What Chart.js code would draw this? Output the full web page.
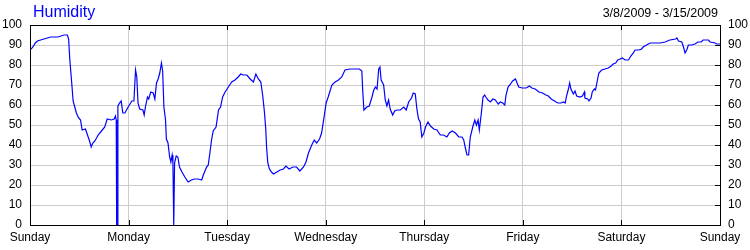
<!DOCTYPE html>
<html>
<head>
<meta charset="utf-8">
<script src="https://cdn.jsdelivr.net/npm/chart.js@4"></script>
<style>
  html, body { margin: 0; padding: 0; background: #fff; }
  #wrap { width: 750px; height: 250px; }
</style>
</head>
<body>
<div id="wrap"><canvas id="humChart" width="750" height="250"></canvas></div>
<script>
/* ----------- Data ----------- */
const chartTitle = 'Humidity';
const dateRange = '3/8/2009 - 3/15/2009';
const dayLabels = ['Sunday', 'Monday', 'Tuesday', 'Wednesday', 'Thursday', 'Friday', 'Saturday', 'Sunday'];
const yTicks = [0, 10, 20, 30, 40, 50, 60, 70, 80, 90, 100];

// hours since Sunday 00:00
const hours = [
  0, 0.3, 0.7, 1.3, 1.8, 3.4, 5.0, 6.8, 8.3, 9.1,
  9.4, 9.7, 10.1, 10.5, 10.9, 11.3, 11.7, 12.3, 12.7, 13.5,
  14.0, 14.5, 14.9, 15.3, 15.8, 16.6, 17.4, 18.2, 18.8, 19.8,
  20.5, 20.8, 21.0, 21.1, 21.3, 21.4, 21.8, 22.2, 22.6, 23.1,
  23.9, 24.8, 25.3, 25.7, 26.0, 26.3, 26.7, 27.5, 27.8, 28.1,
  28.6, 28.9, 29.4, 30.0, 30.4, 30.8, 31.2, 31.6, 32.0, 32.3,
  32.6, 33.0, 33.2, 33.6, 34.0, 34.3, 34.6, 34.8, 35.0, 35.2,
  35.6, 36.0, 36.4, 37.0, 37.7, 38.5, 39.3, 40.1, 40.9,
  41.8, 42.2, 43.0, 43.4, 43.8, 44.2, 44.6, 45.3, 45.9, 46.4,
  46.9, 47.5, 48.3, 49.1, 49.9, 50.7, 51.3, 51.9, 52.8, 53.6,
  54.4, 55.0, 55.6, 56.2, 56.7, 57.1, 57.4, 57.6, 57.9, 58.3,
  58.8, 59.3, 60.1, 60.9, 61.7, 62.3, 63.1, 64.0, 64.9, 65.7,
  66.6, 67.2, 67.8, 68.6, 69.2, 69.8, 70.5, 71.0, 71.6, 72.1,
  72.6, 73.5, 74.3, 75.1, 75.9, 76.7, 77.9, 79.1, 80.2, 80.8,
  81.0, 81.3, 82.0, 82.6, 83.2,
  83.7, 84.1, 84.5, 84.9, 85.2, 85.5, 86.1, 86.5, 86.9, 87.3,
  87.7, 88.3, 88.8, 89.4, 90.2, 91.0, 91.6, 92.2, 92.9, 93.3,
  93.8, 94.2, 94.6, 95.0, 95.4, 95.9, 96.3, 96.9, 97.5, 98.3,
  99.1, 99.9, 100.7, 101.5, 102.1, 102.8, 103.6, 104.4, 105.2, 105.6,
  106.0, 106.4, 106.8, 107.2, 107.8, 108.3, 108.7, 109.1, 109.4, 109.9,
  110.3, 110.7, 111.0, 111.5, 112.1, 112.7, 113.3, 114.0, 114.5, 115.1,
  115.6, 115.9, 116.4, 117.0, 117.5, 118.2, 118.6, 119.0, 119.8, 120.8,
  121.6, 122.2, 123.0, 123.9, 124.8, 125.6,
  126.2, 126.9, 127.7, 128.5, 129.3, 129.9, 130.3, 130.7, 131.1, 131.4,
  131.7, 132.3, 132.7, 133.1, 133.9, 134.5, 135.0, 135.1, 135.8, 136.1,
  136.6, 136.9, 137.4, 137.7, 138.2, 138.5, 139.2, 140.0, 140.8, 141.5,
  142.0, 142.6, 143.1, 143.7, 144.2, 144.9, 145.7, 146.3, 146.9, 147.3,
  148.3, 148.9, 149.3, 150.1, 151.0, 152.2, 153.4, 154.6, 155.8, 157.2,
  157.5, 157.9, 158.7, 159.1, 159.5, 159.9, 160.3, 161.1, 161.9, 162.6,
  163.4, 163.9, 165.2, 165.6, 166.8, 167.2, 168
];

// humidity %
const humidity = [
  88, 88, 89, 91, 92, 93, 94, 94, 95, 95,
  93, 82.5, 72.5, 62, 59, 56, 54, 52.5, 47.5, 48,
  45, 42, 39, 41, 42, 45, 47, 49, 53, 52.5,
  53, 54.5, 52.5, 0, 0, 59.5, 61, 62, 56, 56,
  59, 62, 62, 77.5, 74, 61, 58, 57.5, 55, 59,
  64, 63, 66.5, 66, 63, 71, 73, 76, 81, 77,
  59, 52.5, 43, 41, 34, 31.5, 35, 31, 0, 31,
  34.5, 34, 29, 26.5, 24, 21.5, 22.5, 23, 23,
  22.5, 25, 29, 30, 36, 42.5, 47, 49, 57.5, 59,
  64, 66.5, 69, 71.5, 72.5, 74, 75.5, 75, 75, 73,
  71.5, 75.5, 73, 71.5, 64, 56, 48, 39, 31, 28,
  26.5, 25.5, 26.5, 27.5, 28, 29.5, 28, 29, 29, 27,
  29, 31.5, 36, 40, 42.5, 41, 43, 46, 54, 61,
  64, 70, 71.5, 72.5, 74, 77.5, 78, 78, 78, 77,
  67.5, 57.5, 59, 59.5, 63.5,
  67.5, 69, 68, 78, 79, 72.5, 70, 62.5, 59.5, 62.5,
  58, 55, 57, 57.5, 57.5, 59, 57.5, 61.5, 63.5, 66,
  65.5, 58, 53, 51.5, 44, 46, 49, 51.5, 49.5, 48,
  47.5, 45, 45, 44, 46, 47, 46, 44, 44, 42.5,
  38.5, 35, 35, 44, 49, 52.5, 50, 52.5, 47.5, 56,
  64, 65, 64, 62.5, 61.5, 63, 62.5, 60.5, 61.5, 61,
  60, 65, 69, 70.5, 72, 73, 71, 69, 68.5, 68.5,
  69.5, 68.5, 68, 66.5, 66, 65,
  64.5, 63, 62, 61, 61, 61.5, 61, 65, 68, 71,
  68, 65.5, 67, 64.5, 64, 64.5, 66.5, 63.5, 63, 62,
  63.5, 66.5, 68, 67.5, 73, 76, 77.5, 78, 78.5, 79.5,
  80.5, 81, 82.5, 83, 83.5, 82.5, 82.5, 84.5, 86, 87.5,
  87.5, 88, 89, 90, 91, 91, 91, 91.5, 92.5, 93,
  93.5, 92, 91.5, 89, 86, 87.5, 90, 90, 90.5, 91.5,
  91.5, 92.5, 92.5, 91.5, 91, 90.5, 90.5
];

/* ----------- Frame, inner ticks & header text ----------- */
const FONT = '"Liberation Sans", Arial, sans-serif';
const framePlugin = {
  id: 'frame',
  afterDraw(chart) {
    const { ctx, chartArea: a, scales } = chart;
    ctx.save();
    ctx.strokeStyle = '#000';
    ctx.lineWidth = 1;
    ctx.strokeRect(a.left + 0.5, a.top + 0.5, a.right - a.left, a.bottom - a.top);
    ctx.beginPath();
    scales.x.ticks.forEach(t => {
      const px = Math.round(scales.x.getPixelForValue(t.value)) + 0.5;
      ctx.moveTo(px, a.top); ctx.lineTo(px, a.top + 5);
      ctx.moveTo(px, a.bottom); ctx.lineTo(px, a.bottom - 5);
    });
    scales.y2.ticks.forEach(t => {
      const py = Math.round(scales.y2.getPixelForValue(t.value)) + 0.5;
      ctx.moveTo(a.right, py); ctx.lineTo(a.right - 5, py);
    });
    ctx.stroke();

    ctx.textBaseline = 'alphabetic';
    ctx.font = '16px ' + FONT;
    ctx.fillStyle = '#0000ff';
    ctx.textAlign = 'left';
    ctx.fillText(chartTitle, 33, 17);
    ctx.font = '12.5px ' + FONT;
    ctx.fillStyle = '#000';
    ctx.textAlign = 'right';
    ctx.fillText(dateRange, 718, 17);
    ctx.restore();
  }
};

const yAxis = (position, showGrid) => ({
  type: 'linear',
  position: position,
  min: yTicks[0],
  max: yTicks[yTicks.length - 1],
  afterBuildTicks: s => { s.ticks = yTicks.map(v => ({ value: v })); },
  afterFit: s => { s.width = 30; },
  grid: { display: showGrid, color: '#cccccc', drawTicks: false },
  border: { display: false },
  ticks: { padding: 8, color: '#000', font: { family: FONT, size: 12 } }
});

new Chart(document.getElementById('humChart'), {
  type: 'line',
  data: {
    datasets: [{
      data: hours.map((h, i) => ({ x: h, y: humidity[i] })),
      borderColor: '#0000ff',
      borderWidth: 1.2,
      pointRadius: 0,
      tension: 0,
      fill: false
    }]
  },
  options: {
    responsive: false,
    animation: false,
    layout: { padding: { top: 25, left: 0, right: 0, bottom: 0 } },
    plugins: { legend: { display: false }, tooltip: { enabled: false } },
    scales: {
      x: {
        type: 'linear',
        min: 0,
        max: 168,
        afterBuildTicks: s => { s.ticks = dayLabels.map((d, i) => ({ value: i * 24 })); },
        afterFit: s => { s.height = 25; },
        grid: { color: '#cccccc', drawTicks: false },
        border: { display: false },
        ticks: {
          padding: 5,
          maxRotation: 0,
          autoSkip: false,
          color: '#000',
          font: { family: FONT, size: 12 },
          callback: v => dayLabels[Math.round(v / 24)]
        }
      },
      y: yAxis('left', true),
      y2: yAxis('right', false)
    }
  },
  plugins: [framePlugin]
});
</script>
</body>
</html>
